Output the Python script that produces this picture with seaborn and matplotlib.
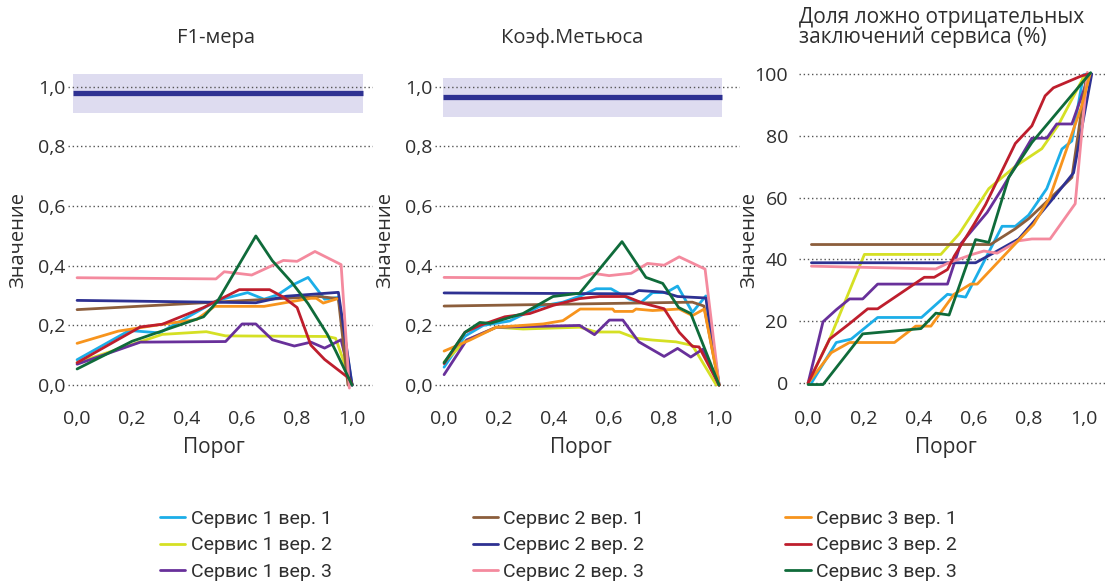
import matplotlib
matplotlib.use("Agg")
import matplotlib.pyplot as plt
import pandas as pd
import seaborn as sns

# series names and colours (legend order = draw order)
SERIES = ["Сервис 1 вер. 1", "Сервис 1 вер. 2", "Сервис 1 вер. 3",
          "Сервис 2 вер. 1", "Сервис 2 вер. 2", "Сервис 2 вер. 3",
          "Сервис 3 вер. 1", "Сервис 3 вер. 2", "Сервис 3 вер. 3"]
COLORS = ["#1CAEE8", "#D5E024", "#68309A",
          "#8C5E3C", "#2E3192", "#F48A9E",
          "#F7941D", "#BE1E2D", "#0F6B3A"]

# F1-мера: series -> (threshold, value)
F1 = {
    "Сервис 1 вер. 1": ([0, 0.19, 0.30, 0.51, 0.62, 0.68, 0.73, 0.78, 0.84, 0.90, 0.95, 1.0],
                        [0.085, 0.183, 0.175, 0.284, 0.31, 0.288, 0.303, 0.334, 0.361, 0.288, 0.294, 0.0]),
    "Сервис 1 вер. 2": ([0, 0.31, 0.47, 0.54, 0.91, 0.94, 1.0],
                        [0.075, 0.17, 0.179, 0.165, 0.163, 0.157, 0.0]),
    "Сервис 1 вер. 3": ([0, 0.23, 0.54, 0.60, 0.65, 0.71, 0.79, 0.85, 0.90, 0.96, 1.0],
                        [0.07, 0.144, 0.146, 0.205, 0.205, 0.152, 0.131, 0.144, 0.124, 0.152, 0.0]),
    "Сервис 2 вер. 1": ([0, 0.88, 0.95, 0.985],
                        [0.253, 0.297, 0.29, 0.0]),
    "Сервис 2 вер. 2": ([0, 0.65, 0.76, 0.95, 1.0],
                        [0.284, 0.276, 0.298, 0.311, 0.0]),
    "Сервис 2 вер. 3": ([0, 0.505, 0.535, 0.635, 0.75, 0.80, 0.865, 0.96, 0.99],
                        [0.36, 0.356, 0.38, 0.369, 0.418, 0.415, 0.448, 0.404, -0.01]),
    "Сервис 3 вер. 1": ([0, 0.15, 0.31, 0.435, 0.50, 0.68, 0.85, 0.87, 0.895, 0.945],
                        [0.14, 0.181, 0.204, 0.22, 0.264, 0.264, 0.291, 0.291, 0.275, 0.289]),
    "Сервис 3 вер. 2": ([0, 0.23, 0.31, 0.46, 0.59, 0.70, 0.75, 0.80, 0.85, 0.90, 0.99, 1.0],
                        [0.075, 0.195, 0.204, 0.26, 0.32, 0.32, 0.295, 0.26, 0.134, 0.086, 0.022, 0.003]),
    "Сервис 3 вер. 3": ([0, 0.2, 0.46, 0.51, 0.65, 0.71, 0.78, 0.84, 0.91, 0.94, 1.0],
                        [0.054, 0.147, 0.229, 0.28, 0.5, 0.417, 0.345, 0.273, 0.17, 0.115, 0.0]),
}

# Коэф. Метьюса
MCC = {
    "Сервис 1 вер. 1": ([0, 0.076, 0.142, 0.239, 0.348, 0.432, 0.499, 0.553, 0.607, 0.674, 0.716,
                         0.758, 0.807, 0.849, 0.903, 0.952, 1.0],
                        [0.06, 0.164, 0.2, 0.215, 0.264, 0.278, 0.3, 0.323, 0.323, 0.288, 0.277,
                         0.31, 0.31, 0.332, 0.244, 0.299, 0.0]),
    "Сервис 1 вер. 2": ([0, 0.082, 0.19, 0.287, 0.493, 0.553, 0.638, 0.698, 0.758, 0.843, 0.903, 0.99],
                        [0.077, 0.151, 0.194, 0.188, 0.194, 0.178, 0.178, 0.157, 0.151, 0.145, 0.133, 0.0]),
    "Сервис 1 вер. 3": ([0, 0.082, 0.19, 0.493, 0.547, 0.601, 0.65, 0.708, 0.80, 0.849, 0.897, 0.94, 1.0],
                        [0.035, 0.151, 0.194, 0.2, 0.169, 0.218, 0.218, 0.145, 0.096, 0.123, 0.094, 0.12, 0.0]),
    "Сервис 2 вер. 1": ([0, 0.903, 0.945, 1.0],
                        [0.265, 0.278, 0.265, 0.0]),
    "Сервис 2 вер. 2": ([0, 0.686, 0.708, 0.795, 0.849, 0.952, 1.0],
                        [0.309, 0.306, 0.317, 0.312, 0.297, 0.292, 0.0]),
    "Сервис 2 вер. 3": ([0, 0.493, 0.541, 0.60, 0.68, 0.74, 0.80, 0.855, 0.949, 1.0],
                        [0.361, 0.358, 0.375, 0.367, 0.375, 0.408, 0.402, 0.43, 0.389, 0.0]),
    "Сервис 3 вер. 1": ([0, 0.094, 0.19, 0.36, 0.432, 0.495, 0.613, 0.62, 0.686, 0.698, 0.758,
                         0.855, 0.903, 0.946, 1.0],
                        [0.114, 0.151, 0.194, 0.205, 0.216, 0.255, 0.255, 0.247, 0.247, 0.255, 0.25,
                         0.255, 0.233, 0.255, 0.0]),
    "Сервис 3 вер. 2": ([0, 0.076, 0.13, 0.221, 0.312, 0.396, 0.493, 0.565, 0.662, 0.722, 0.80,
                         0.855, 0.903, 0.927, 1.0],
                        [0.072, 0.177, 0.2, 0.229, 0.24, 0.267, 0.29, 0.297, 0.297, 0.275, 0.256,
                         0.177, 0.13, 0.128, 0.0]),
    "Сервис 3 вер. 3": ([0, 0.076, 0.13, 0.167, 0.287, 0.396, 0.493, 0.647, 0.734, 0.795, 0.853, 0.897, 1.0],
                        [0.075, 0.177, 0.21, 0.207, 0.24, 0.297, 0.308, 0.481, 0.361, 0.341, 0.26, 0.24, 0.0]),
}

# Доля ложно отрицательных заключений сервиса (%)
FNR = {
    "Сервис 1 вер. 1": ([0.012, 0.102, 0.156, 0.252, 0.411, 0.505, 0.571, 0.703, 0.751, 0.799,
                         0.865, 0.92, 0.956, 0.998, 1.012],
                        [0, 13.1, 14.2, 21.2, 21.2, 28.7, 27.8, 50.7, 50.7, 54.3,
                         62.9, 75.7, 78.3, 99.7, 100]),
    "Сервис 1 вер. 2": ([0, 0.078, 0.204, 0.481, 0.547, 0.655, 0.751, 0.847, 0.907, 1.0, 1.02],
                        [0, 14.2, 41.6, 41.6, 48.2, 62.9, 70.1, 75.8, 83.5, 99.2, 100]),
    "Сервис 1 вер. 3": ([0, 0.054, 0.102, 0.15, 0.198, 0.252, 0.505, 0.553, 0.649, 0.703, 0.751,
                         0.811, 0.865, 0.901, 0.956, 1.02],
                        [0, 19.8, 23.7, 27.2, 27.2, 32, 32, 45, 55.2, 62.9, 70.1,
                         79.2, 79.2, 83.8, 83.8, 100]),
    "Сервис 2 вер. 1": ([0.012, 0.661, 0.751, 0.80, 0.871, 0.956, 1.01],
                        [44.8, 44.8, 49.9, 53.2, 59.2, 66.5, 100]),
    "Сервис 2 вер. 2": ([0.012, 0.607, 0.679, 0.763, 0.811, 0.883, 0.962, 1.028],
                        [38.9, 38.9, 42.4, 46.6, 51.5, 59.2, 68.0, 100]),
    "Сервис 2 вер. 3": ([0.012, 0.463, 0.51, 0.595, 0.637, 0.685, 0.763, 0.811, 0.877, 0.968, 1.012],
                        [37.8, 36.9, 38.9, 41.6, 42.7, 42, 46, 46.6, 46.6, 58, 100.5]),
    "Сервис 3 вер. 1": ([0, 0.084, 0.15, 0.313, 0.39, 0.445, 0.529, 0.589, 0.613, 0.817, 0.875, 0.992, 1.022],
                        [0, 9.8, 13.1, 13.1, 18.4, 18.4, 28.7, 32, 32, 51.3, 59.8, 89.8, 100]),
    "Сервис 3 вер. 2": ([0, 0.078, 0.15, 0.216, 0.252, 0.421, 0.457, 0.505, 0.53, 0.601, 0.643,
                         0.751, 0.811, 0.859, 0.889, 0.992, 1.02],
                        [0, 14.2, 19.2, 24, 24, 34.2, 34.2, 36.7, 41.1, 51.3, 57.7,
                         77.5, 83.2, 92.9, 95.5, 99.4, 100]),
    "Сервис 3 вер. 3": ([0, 0.054, 0.198, 0.409, 0.463, 0.511, 0.607, 0.655, 0.727, 0.811, 1.024],
                        [-0.5, -0.5, 15.9, 17.6, 22.6, 22, 46.4, 45.5, 66.5, 77.8, 100.4]),
}

# reference band (light area + line) on the first two panels
F1_BAND_X = [-0.015, 1.04]
F1_BAND = (0.913, 1.044, 0.981)
MCC_BAND_X = [-0.004, 1.01]
MCC_BAND = (0.899, 1.03, 0.967)

X_TICKS = [0, 0.2, 0.4, 0.6, 0.8, 1.0]
Y_TICKS_SCORE = [0, 0.2, 0.4, 0.6, 0.8, 1.0]
Y_TICKS_PCT = [0, 20, 40, 60, 80, 100]

BAND_FILL = "#DEDCF0"
BAND_LINE = "#2E3192"
TXT = "#2e2e2e"


def to_long(panel):
    rows = []
    for name in SERIES:
        xs, ys = panel[name]
        for x, y in zip(xs, ys):
            rows.append({"series": name, "x": x, "y": y})
    return pd.DataFrame(rows)


def comma(v, digits=1):
    return f"{v:.{digits}f}".replace(".", ",")


sns.set_style("white")
plt.rcParams["font.family"] = ["Open Sans", "DejaVu Sans"]
plt.rcParams["font.size"] = 14

fig = plt.figure(figsize=(11.15, 5.85), dpi=100)
W, H = 1115, 585
boxes = [(68, 305), (435, 305), (799, 306)]
axes = [fig.add_axes([l / W, (H - 400) / H, w / W, 340 / H]) for l, w in boxes]

panels = [F1, MCC, FNR]
for i, (ax, panel) in enumerate(zip(axes, panels)):
    df = to_long(panel)
    if i == 0:
        lo, hi, mid = F1_BAND
        ax.fill_between(F1_BAND_X, lo, hi, color=BAND_FILL, lw=0, zorder=0)
        ax.plot(F1_BAND_X, [mid, mid], color=BAND_LINE, lw=3.8, solid_capstyle="butt", zorder=1)
    elif i == 1:
        lo, hi, mid = MCC_BAND
        ax.fill_between(MCC_BAND_X, lo, hi, color=BAND_FILL, lw=0, zorder=0)
        ax.plot(MCC_BAND_X, [mid, mid], color=BAND_LINE, lw=3.8, solid_capstyle="butt", zorder=1)

    sns.lineplot(data=df, x="x", y="y", hue="series", hue_order=SERIES,
                 palette=COLORS, estimator=None, sort=False, linewidth=2.0,
                 legend=(i == 0), ax=ax, zorder=3)

    ax.set_xlim(-0.033, 1.076)
    ax.set_xticks(X_TICKS)
    ax.set_xticklabels([comma(v) for v in X_TICKS])
    if i < 2:
        ax.set_ylim(-0.05, 1.09)
        ax.set_yticks(Y_TICKS_SCORE)
        ax.set_yticklabels([comma(v) for v in Y_TICKS_SCORE])
        ypad = 2
    else:
        ax.set_ylim(-5.5, 104.5)
        ax.set_yticks(Y_TICKS_PCT)
        ax.set_yticklabels([str(v) for v in Y_TICKS_PCT])
        ypad = 8
    ax.tick_params(axis="y", length=0, pad=ypad, labelsize=14, labelcolor=TXT)
    ax.tick_params(axis="x", length=0, pad=7, labelsize=14, labelcolor=TXT)
    ax.grid(axis="y", linestyle=(0, (1, 2)), color="#555555", lw=1.0)
    ax.grid(axis="x", visible=False)
    sns.despine(ax=ax, left=True, bottom=True)

    ax.set_xlabel("Порог", fontsize=15, color=TXT)
    ax.set_ylabel("Значение", fontsize=14.5, color=TXT)
    ax.xaxis.set_label_coords(0.48, -0.108)
    ax.yaxis.set_label_coords(-0.13, 0.47)

axes[0].text(0.485, 1.065, "F1-мера", transform=axes[0].transAxes,
             ha="center", va="center", fontsize=14.5, color=TXT)
axes[1].text(0.449, 1.065, "Коэф.Метьюса", transform=axes[1].transAxes,
             ha="center", va="center", fontsize=14.5, color=TXT)
axes[2].text(0.0, 1.096, "Доля ложно отрицательных\nзаключений сервиса (%)",
             transform=axes[2].transAxes, ha="left", va="center",
             fontsize=15, color=TXT, linespacing=0.95)

handles, labels = axes[0].get_legend_handles_labels()
axes[0].get_legend().remove()
fig.legend(handles, labels, ncol=3, loc="upper left",
           bbox_to_anchor=(160 / W, (H - 510) / H), frameon=False,
           borderpad=0, borderaxespad=0, handlelength=1.3, handletextpad=0.28,
           columnspacing=7.25, labelspacing=0.43,
           prop={"family": "Roboto", "size": 14}, labelcolor=TXT)

fig.savefig("out.png", dpi=100)
